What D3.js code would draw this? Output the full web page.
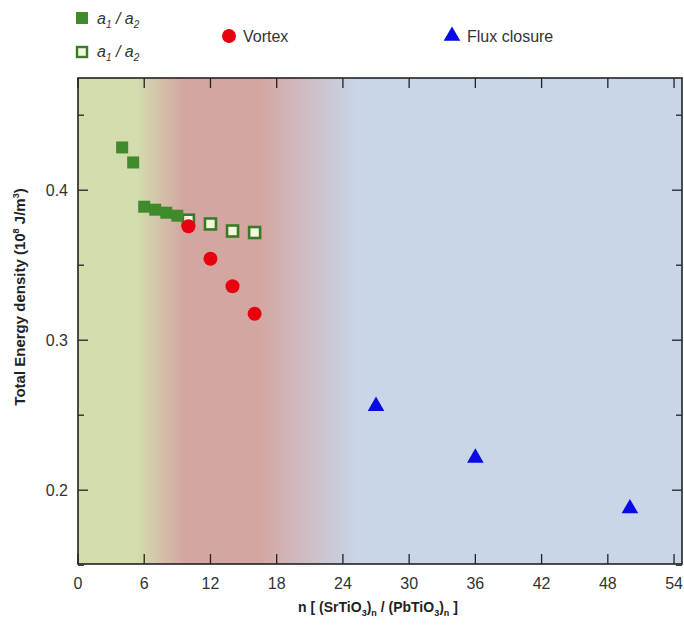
<!DOCTYPE html>
<html><head><meta charset="utf-8">
<script src="https://cdn.jsdelivr.net/npm/d3@7"></script>
<style>body{margin:0;background:#fff}svg{display:block}text{font-family:"Liberation Sans",Arial,sans-serif}</style>
</head><body><svg id="c" width="684" height="627"></svg>
<script>
const a1a2FilledN = [4, 5, 6, 7, 8, 9];
const a1a2FilledE = [0.4285, 0.4185, 0.389, 0.387, 0.385, 0.383];
const a1a2OpenN = [10, 12, 14, 16];
const a1a2OpenE = [0.380, 0.3775, 0.3728, 0.3718];
const vortexN = [10, 12, 14, 16];
const vortexE = [0.376, 0.3543, 0.336, 0.3176];
const fluxN = [27, 36, 50];
const fluxE = [0.256, 0.2215, 0.1878];
const xTicks = [0, 6, 12, 18, 24, 30, 36, 42, 48, 54];
const yTicks = [0.2, 0.3, 0.4];
const yMinor = [0.15, 0.25, 0.35, 0.45];
const bgStops = [[0, "#d3ddae"], [5.3, "#d3ddae"], [9.6, "#d4a6a2"], [16.4, "#d4a6a2"], [25.4, "#c8d6e8"], [54.7, "#c8d6e8"]];

const svg = d3.select("#c");
const L = 78, R = 682, T = 78, B = 564;
const x = d3.scaleLinear().domain([0, 54.72]).range([L, R]);
const y = d3.scaleLinear().domain([0.1508, 0.4748]).range([B, T]);

const grad = svg.append("defs").append("linearGradient").attr("id", "bg")
  .attr("gradientUnits", "userSpaceOnUse").attr("x1", L).attr("x2", R).attr("y1", 0).attr("y2", 0);
bgStops.forEach(s => grad.append("stop").attr("offset", (x(s[0]) - L) / (R - L)).attr("stop-color", s[1]));
svg.append("rect").attr("x", L).attr("y", T).attr("width", R - L).attr("height", B - T).attr("fill", "url(#bg)");

// ticks
const tk = svg.append("g").attr("stroke", "#222").attr("stroke-width", 1.3);
xTicks.forEach(v => {
  tk.append("line").attr("x1", x(v)).attr("x2", x(v)).attr("y1", B).attr("y2", B - 10);
  tk.append("line").attr("x1", x(v)).attr("x2", x(v)).attr("y1", T).attr("y2", T + 10);
});
yTicks.forEach(v => {
  tk.append("line").attr("x1", L).attr("x2", L + 10).attr("y1", y(v)).attr("y2", y(v));
  tk.append("line").attr("x1", R).attr("x2", R - 10).attr("y1", y(v)).attr("y2", y(v));
});
yMinor.forEach(v => {
  tk.append("line").attr("x1", L).attr("x2", L + 6).attr("y1", y(v)).attr("y2", y(v));
  tk.append("line").attr("x1", R).attr("x2", R - 6).attr("y1", y(v)).attr("y2", y(v));
});
svg.append("rect").attr("x", L).attr("y", T).attr("width", R - L).attr("height", B - T)
  .attr("fill", "none").attr("stroke", "#222").attr("stroke-width", 1.6);

// tick labels
svg.append("g").selectAll("text").data(xTicks).join("text")
  .attr("x", d => x(d)).attr("y", 589).attr("text-anchor", "middle")
  .attr("font-size", 16).attr("fill", "#333").text(d => d);
svg.append("g").selectAll("text").data(yTicks).join("text")
  .attr("x", 68).attr("y", d => y(d) + 6).attr("text-anchor", "end")
  .attr("font-size", 16).attr("fill", "#333").text(d => d.toFixed(1));

// axis titles
const xt = svg.append("text").attr("x", 378).attr("y", 612).attr("text-anchor", "middle")
  .attr("font-size", 14).attr("font-weight", "bold").attr("fill", "#222");
xt.append("tspan").text("n [ (SrTiO");
xt.append("tspan").attr("font-size", 9).attr("dy", 4).text("3");
xt.append("tspan").attr("dy", -4).text(")");
xt.append("tspan").attr("font-size", 9).attr("dy", 4).text("n");
xt.append("tspan").attr("dy", -4).text(" / (PbTiO");
xt.append("tspan").attr("font-size", 9).attr("dy", 4).text("3");
xt.append("tspan").attr("dy", -4).text(")");
xt.append("tspan").attr("font-size", 9).attr("dy", 4).text("n");
xt.append("tspan").attr("dy", -4).text(" ]");

const yt = svg.append("text").attr("transform", "translate(25,297) rotate(-90)").attr("text-anchor", "middle")
  .attr("font-size", 15).attr("font-weight", "bold").attr("fill", "#222");
yt.append("tspan").text("Total Energy density (10");
yt.append("tspan").attr("font-size", 9).attr("dy", -6).text("8");
yt.append("tspan").attr("dy", 6).text(" J/m");
yt.append("tspan").attr("font-size", 9).attr("dy", -6).text("3");
yt.append("tspan").attr("dy", 6).text(")");

// marks
const sq = 12;
svg.append("g").selectAll("rect").data(d3.zip(a1a2OpenN, a1a2OpenE)).join("rect")
  .attr("x", d => x(d[0]) - 5.5).attr("y", d => y(d[1]) - 5.5).attr("width", 11).attr("height", 11)
  .attr("fill", "#f2f7e0").attr("stroke", "#3a7a25").attr("stroke-width", 2.6);
svg.append("g").selectAll("circle").data(d3.zip(vortexN, vortexE)).join("circle")
  .attr("cx", d => x(d[0])).attr("cy", d => y(d[1])).attr("r", 7).attr("fill", "#e8000e");
svg.append("g").selectAll("rect").data(d3.zip(a1a2FilledN, a1a2FilledE)).join("rect")
  .attr("x", d => x(d[0]) - sq / 2).attr("y", d => y(d[1]) - sq / 2).attr("width", sq).attr("height", sq)
  .attr("fill", "#3f8a2a");
const tri = d3.symbol().type(d3.symbolTriangle).size(120);
svg.append("g").selectAll("path").data(d3.zip(fluxN, fluxE)).join("path")
  .attr("transform", d => `translate(${x(d[0])},${y(d[1])})`).attr("d", tri).attr("fill", "#0a0ae8");

// legend
svg.append("rect").attr("x", 76).attr("y", 12).attr("width", 12).attr("height", 12).attr("fill", "#3f8a2a");
svg.append("rect").attr("x", 77).attr("y", 47).attr("width", 10).attr("height", 10)
  .attr("fill", "#f2f7e0").attr("stroke", "#3a7a25").attr("stroke-width", 2.4);
function aLabel(yy) {
  const t = svg.append("text").attr("x", 97).attr("y", yy).attr("font-size", 16).attr("fill", "#333").attr("font-style", "italic");
  t.append("tspan").text("a");
  t.append("tspan").attr("font-size", 10).attr("dy", 4).text("1");
  t.append("tspan").attr("dy", -4).text(" / a");
  t.append("tspan").attr("font-size", 10).attr("dy", 4).text("2");
}
aLabel(24);
aLabel(57);
svg.append("circle").attr("cx", 229).attr("cy", 36).attr("r", 7).attr("fill", "#e8000e");
svg.append("text").attr("x", 243).attr("y", 42).attr("font-size", 16).attr("fill", "#333").text("Vortex");
svg.append("path").attr("transform", "translate(452,36)").attr("d", tri).attr("fill", "#0a0ae8");
svg.append("text").attr("x", 467).attr("y", 42).attr("font-size", 16).attr("fill", "#333").text("Flux closure");
</script></body></html>
